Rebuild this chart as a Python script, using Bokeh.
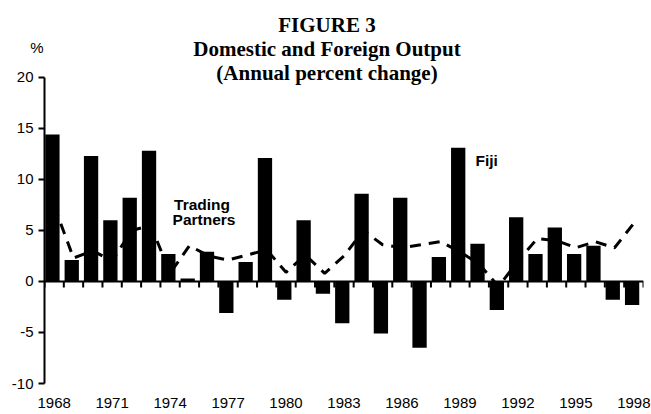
from bokeh.plotting import figure
from bokeh.models import Range1d, FixedTicker, Span, Label, ColumnDataSource
from bokeh.transform import dodge
from bokeh.embed import file_html
from bokeh.resources import INLINE

# ---- data ----
years = list(range(1968, 1999))
fiji = [14.4, 2.1, 12.3, 6.0, 8.2, 12.8, 2.7, 0.3, 2.9, -3.1,
        1.9, 12.1, -1.8, 6.0, -1.2, -4.1, 8.6, -5.1, 8.2, -6.5,
        2.4, 13.1, 3.7, -2.8, 6.3, 2.7, 5.3, 2.7, 3.5, -1.8, -2.3]
partners = [7.4, 2.3, 3.0, 2.0, 5.0, 5.5, 0.8, 3.5, 2.5, 2.1,
            2.6, 3.1, 0.9, 2.6, 0.8, 2.5, 5.0, 3.6, 3.3, 3.6,
            3.9, 2.9, 1.7, -0.5, 2.0, 4.2, 4.0, 3.3, 3.9, 3.3, 5.7]
x_tick_years = [1968, 1971, 1974, 1977, 1980, 1983, 1986, 1989, 1992, 1995, 1998]
y_ticks = [-10, -5, 0, 5, 10, 15, 20]
y_tick_labels = ["-10", "-5", "0", "5", "10", "15", "20"]
title_lines = ["FIGURE 3", "Domestic and Foreign Output", "(Annual percent change)"]
unit_label = "%"
series_labels = ["Trading", "Partners", "Fiji"]

# ---- layout ----
W, H = 651, 414
LEFT, RIGHT_PAD, BOTTOM = 44, 8, 31
FRAME_TOP = 40                    # page y of the frame top (label panels above)
Y_MIN, Y_MAX = -10, 20
Y20_PAGE, YM10_PAGE = 76, 383
PX = (YM10_PAGE - Y20_PAGE) / (Y_MAX - Y_MIN)
X0, X1 = years[0] - 0.5, years[-1] + 0.5
SLOT = (W - LEFT - RIGHT_PAD) / (X1 - X0)

def dy(page_y):
    return Y_MAX + (Y20_PAGE - page_y) / PX

def dx(page_x):
    return X0 + (page_x - LEFT) / SLOT

src = ColumnDataSource(dict(year=years, fiji=fiji, partners=partners))

p = figure(width=W, height=H, output_backend="svg", toolbar_location=None,
           x_range=Range1d(X0, X1), y_range=Range1d(Y_MIN, dy(FRAME_TOP)),
           min_border_left=LEFT, min_border_right=RIGHT_PAD,
           min_border_top=FRAME_TOP, min_border_bottom=BOTTOM)
p.outline_line_color = None
p.xgrid.visible = False
p.ygrid.visible = False
p.background_fill_color = "white"
p.border_fill_color = "white"

p.line("year", "partners", source=src, line_color="black", line_width=3,
       line_dash="11 8")
p.vbar(x=dodge("year", -0.09), top="fiji", width=0.74, source=src,
       fill_color="black", line_color=None)

bounds = [y - 0.5 for y in years] + [years[-1] + 0.5]
p.segment(x0=bounds, y0=[0] * len(bounds), x1=bounds, y1=[-0.6] * len(bounds),
          line_color="black", line_width=2)
p.add_layout(Span(location=0, dimension="width", line_color="black", line_width=2))

# y axis
ya = p.yaxis[0]
ya.ticker = FixedTicker(ticks=y_ticks)
ya.major_label_overrides = dict(zip(y_ticks, y_tick_labels))
ya.bounds = (Y_MIN, Y_MAX)
ya.axis_line_width = 2
ya.axis_line_color = "black"
ya.major_tick_line_width = 2
ya.major_tick_line_color = "black"
ya.major_tick_out = 6
ya.major_tick_in = 0
ya.minor_tick_line_color = None
ya.major_label_standoff = 5
ya.major_label_text_font = "Liberation Sans"
ya.major_label_text_font_size = "15px"
ya.major_label_text_color = "black"

# x axis (labels only, at bottom)
xa = p.xaxis[0]
xa.ticker = FixedTicker(ticks=x_tick_years)
xa.major_label_overrides = {y: str(y) for y in x_tick_years}
xa.axis_line_color = None
xa.major_tick_line_color = None
xa.minor_tick_line_color = None
xa.major_tick_out = 0
xa.major_tick_in = 0
xa.major_label_standoff = 14
xa.major_label_text_font = "Liberation Sans"
xa.major_label_text_font_size = "15px"
xa.major_label_text_color = "black"

SANS, SERIF = "Liberation Sans", "Liberation Serif"

def label(txt, px_x, px_base, size, font, bold, align="center"):
    shift = 7 if size >= 20 else 5.5
    return Label(x=dx(px_x), y=dy(px_base - shift), text=txt, text_align=align,
                 text_baseline="alphabetic", text_font=font,
                 text_font_style="bold" if bold else "normal",
                 text_font_size=f"{size}px", text_color="black")

# labels living above the frame are put in the "above" panel so they are not clipped
p.add_layout(label(unit_label, 36.5, 51.5, 15, SANS, False), "above")
p.add_layout(label(title_lines[0], 326.5, 30, 21, SERIF, True), "above")
p.add_layout(label(title_lines[1], 326.5, 54.5, 21, SERIF, True))
p.add_layout(label(title_lines[2], 326.5, 79, 21, SERIF, True))

p.add_layout(label(series_labels[0], 201.5, 208.5, 15.5, SANS, True))
p.add_layout(label(series_labels[1], 203.5, 224.5, 15.5, SANS, True))
p.add_layout(label(series_labels[2], 475, 164.5, 15.5, SANS, True, align="left"))

open("out.html", "w").write(file_html(p, INLINE))
